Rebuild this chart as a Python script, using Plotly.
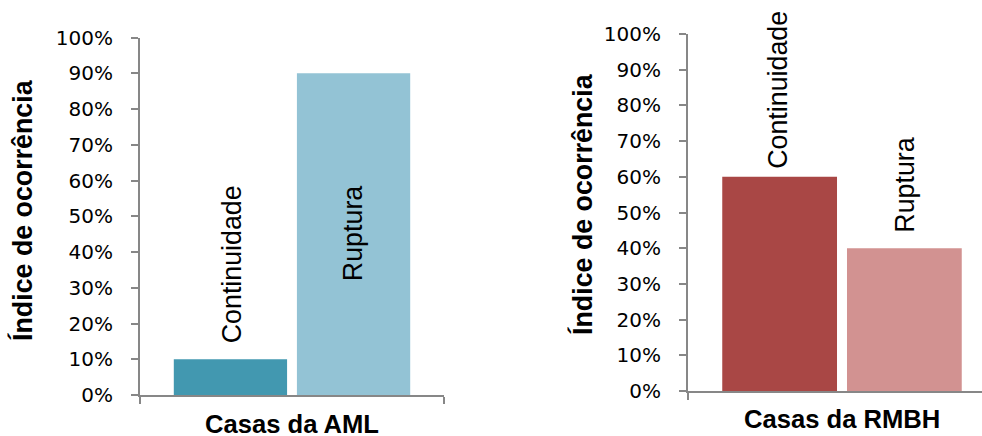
import plotly.graph_objects as go

# ---- data ----
groups = ["Casas da AML", "Casas da RMBH"]
series = ["Continuidade", "Ruptura"]
aml_values = [0.10, 0.90]
rmbh_values = [0.60, 0.40]
y_ticks = [0.0, 0.1, 0.2, 0.3, 0.4, 0.5, 0.6, 0.7, 0.8, 0.9, 1.0]
y_title = "Índice de ocorrência"

aml_colors = ["#4298B0", "#93C3D5"]
rmbh_colors = ["#A94745", "#D29291"]

W, H = 982, 436
AX = "#878787"

fig = go.Figure()
for name, val, col in zip(series, aml_values, aml_colors):
    fig.add_trace(go.Bar(x=[groups[0]], y=[val], name=name, marker_color=col,
                         marker_line_width=0, xaxis="x", yaxis="y", showlegend=False))
for name, val, col in zip(series, rmbh_values, rmbh_colors):
    fig.add_trace(go.Bar(x=[groups[1]], y=[val], name=name, marker_color=col,
                         marker_line_width=0, xaxis="x2", yaxis="y2", showlegend=False))

def px_x(p):
    return p / W

def px_y(p):
    return (H - p) / H

yaxis_style = dict(range=[0, 1], tickvals=y_ticks, tickformat=".0%", ticks="outside",
                   ticklen=7, tickwidth=2, tickcolor=AX, showline=True, linecolor=AX,
                   linewidth=2, showgrid=False, zeroline=False, ticklabelstandoff=14,
                   automargin=False,
                   tickfont=dict(family="DejaVu Sans", size=20, color="#000000"))
xaxis_style = dict(type="category", tickson="boundaries", ticks="outside", ticklen=7,
                   tickwidth=2, tickcolor=AX, showline=True, linecolor=AX, linewidth=2,
                   showticklabels=False, showgrid=False, zeroline=False, automargin=False)

fig.update_layout(
    width=W, height=H, margin=dict(l=0, r=0, t=0, b=0, pad=0),
    paper_bgcolor="white", plot_bgcolor="white",
    barmode="group", bargap=0.19, bargroupgap=0.08,
    xaxis=dict(domain=[px_x(140), px_x(444)], range=[-0.5, 0.5], anchor="y", **xaxis_style),
    yaxis=dict(domain=[px_y(395), px_y(37.5)], anchor="x", **yaxis_style),
    xaxis2=dict(domain=[px_x(688), 1.0], range=[-0.5, -0.5 + 294 / 308], anchor="y2", **xaxis_style),
    yaxis2=dict(domain=[px_y(391), px_y(34)], anchor="x2", **yaxis_style),
)

lab_font = dict(family="Liberation Sans, Arial", size=26.8, color="#000000")
title_font = dict(family="Liberation Sans, Arial", size=26.8, color="#000000")
cat_font = dict(family="Liberation Sans, Arial", size=25.6, color="#000000")

ann = []
# bar labels (series names)
# AML: Continuidade outside, Ruptura centred inside
ann.append(dict(x=groups[0], y=aml_values[0], xref="x", yref="y", text=series[0],
                textangle=-90, showarrow=False, xanchor="center", yanchor="bottom",
                xshift=-60, yshift=14, font=lab_font))
ann.append(dict(x=groups[0], y=aml_values[1] / 2, xref="x", yref="y", text=series[1],
                textangle=-90, showarrow=False, xanchor="center", yanchor="middle",
                xshift=61, font=lab_font))
# RMBH: both outside
ann.append(dict(x=groups[1], y=rmbh_values[0], xref="x2", yref="y2", text=series[0],
                textangle=-90, showarrow=False, xanchor="center", yanchor="bottom",
                xshift=-64, yshift=6, font=lab_font))
ann.append(dict(x=groups[1], y=rmbh_values[1], xref="x2", yref="y2", text=series[1],
                textangle=-90, showarrow=False, xanchor="center", yanchor="bottom",
                xshift=63, yshift=13, font=lab_font))
# category titles
ann.append(dict(x=groups[0], y=px_y(424), xref="x", yref="paper", text="<b>%s</b>" % groups[0],
                showarrow=False, xanchor="center", yanchor="middle", font=cat_font))
ann.append(dict(x=groups[1], y=px_y(419), xref="x2", yref="paper", text="<b>%s</b>" % groups[1],
                showarrow=False, xanchor="center", yanchor="middle", font=cat_font))
# y titles
ann.append(dict(x=px_x(22), y=px_y(210), xref="paper", yref="paper", text="<b>%s</b>" % y_title,
                textangle=-90, showarrow=False, xanchor="center", yanchor="middle", font=title_font))
ann.append(dict(x=px_x(582), y=px_y(204), xref="paper", yref="paper", text="<b>%s</b>" % y_title,
                textangle=-90, showarrow=False, xanchor="center", yanchor="middle", font=title_font))
fig.update_layout(annotations=ann)

fig.write_html("out.html", config={"displayModeBar": False},
               post_script="document.body.style.margin='0';document.body.style.overflow='hidden';")
